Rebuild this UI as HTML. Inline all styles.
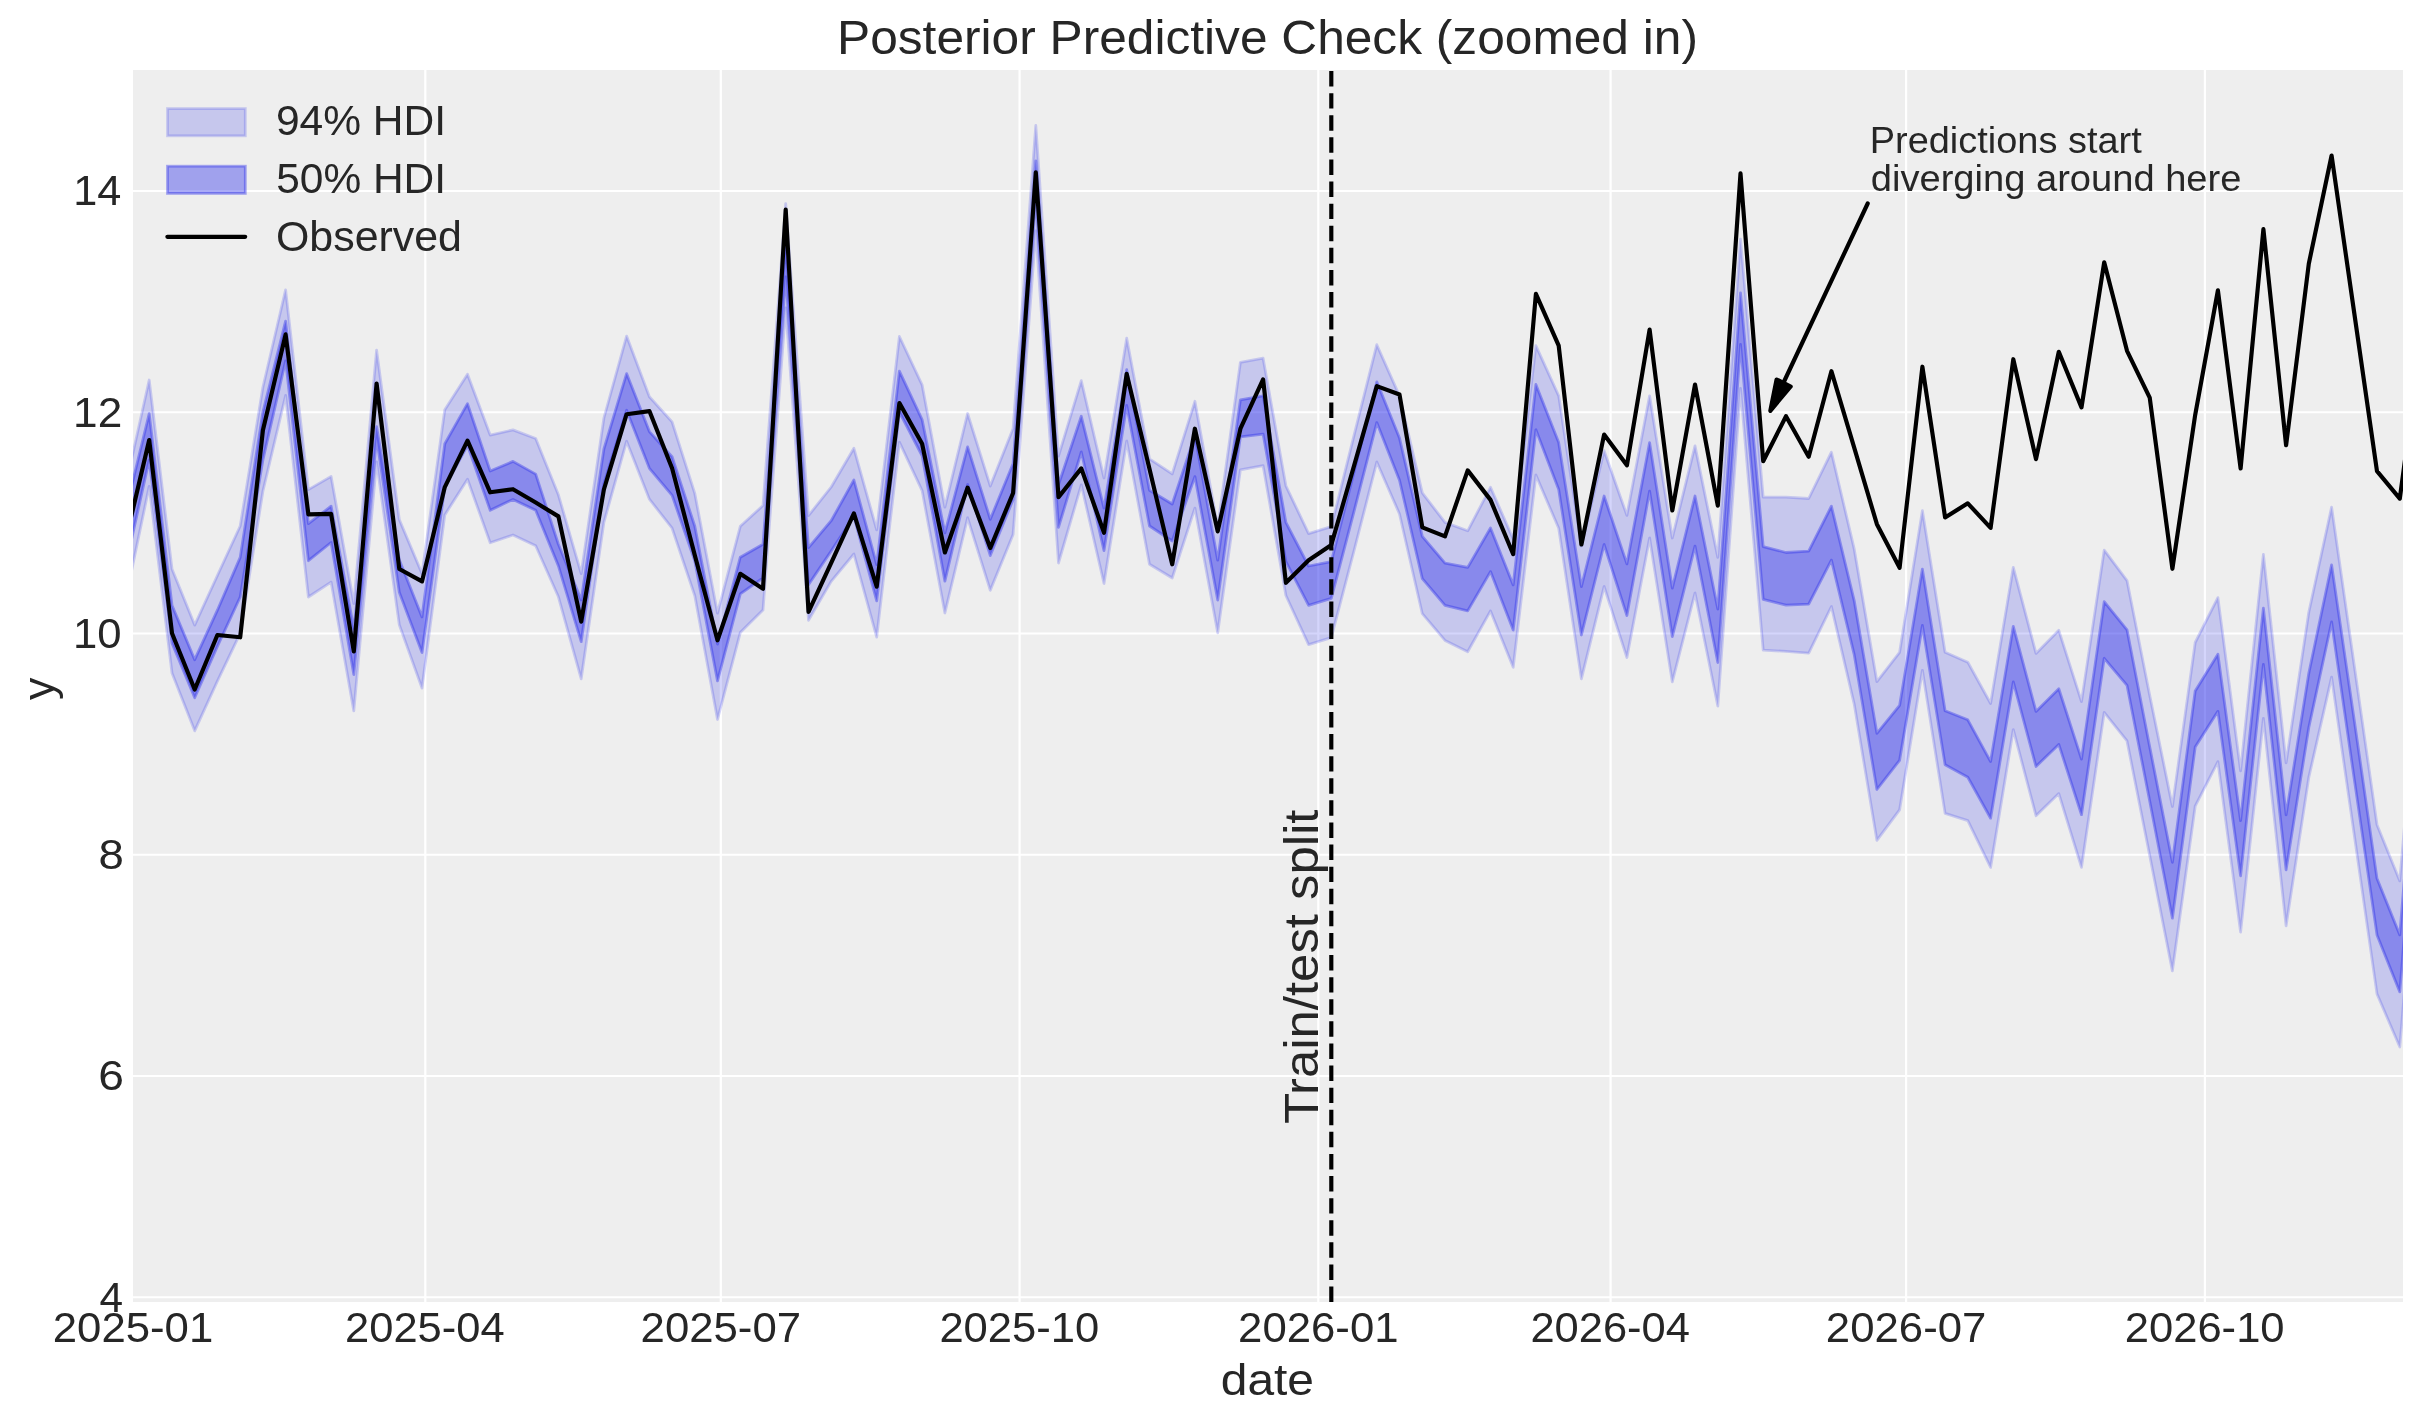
<!DOCTYPE html><html><head><meta charset="utf-8"><style>html,body{margin:0;padding:0;background:#fff;}svg{display:block;will-change:transform}</style></head><body>
<svg width="2423" height="1423" viewBox="0 0 2423 1423">
<rect x="0" y="0" width="2423" height="1423" fill="#ffffff"/>
<rect x="133" y="70" width="2270" height="1232" fill="#eeeeee"/>
<defs><clipPath id="pc"><rect x="133" y="70" width="2270" height="1232"/></clipPath></defs>
<path d="M133,1297.25H2403M133,1076.00H2403M133,854.75H2403M133,633.50H2403M133,412.25H2403M133,191.00H2403M425.30,70V1302M720.80,70V1302M1019.60,70V1302M1318.30,70V1302M1610.60,70V1302M1906.10,70V1302M2204.90,70V1302" stroke="#ffffff" stroke-width="2.22" fill="none" clip-path="url(#pc)"/>
<g clip-path="url(#pc)">
<polygon points="126.5,482.0 149.2,380.0 172.0,568.9 194.7,625.1 217.4,575.5 240.2,526.0 262.9,387.3 285.6,289.8 308.4,489.6 331.1,476.4 353.8,603.6 376.6,350.2 399.3,519.5 422.0,573.6 444.8,409.8 467.5,374.2 490.2,435.1 513.0,429.9 535.7,438.5 558.4,494.8 581.2,573.6 603.9,418.0 626.6,336.1 649.4,396.8 672.1,421.9 694.8,493.4 717.5,613.2 740.3,526.3 763.0,505.5 785.7,203.6 808.5,515.6 831.2,487.0 853.9,448.3 876.7,529.9 899.4,336.5 922.1,384.8 944.9,507.2 967.6,413.5 990.3,486.1 1013.1,428.6 1035.8,125.5 1058.5,456.1 1081.3,380.7 1104.0,478.0 1126.7,338.2 1149.5,458.8 1172.2,473.9 1194.9,401.3 1217.7,527.0 1240.4,362.3 1263.1,358.2 1285.9,485.8 1308.6,533.6 1331.3,526.6 1354.1,435.2 1376.8,344.7 1399.5,395.9 1422.3,492.9 1445.0,522.4 1467.7,530.8 1490.5,487.3 1513.2,539.0 1535.9,345.7 1558.7,395.8 1581.4,546.0 1604.1,450.7 1626.9,515.4 1649.6,395.8 1672.3,538.0 1695.0,445.9 1717.8,557.4 1740.5,239.2 1763.2,497.2 1786.0,497.2 1808.7,498.5 1831.4,452.2 1854.2,548.9 1876.9,681.6 1899.6,652.3 1922.4,510.7 1945.1,652.3 1967.8,662.2 1990.6,703.5 2013.3,567.3 2036.0,653.4 2058.8,630.3 2081.5,701.6 2104.2,550.1 2127.0,580.6 2149.7,695.2 2172.4,806.5 2195.2,642.5 2217.9,597.6 2240.6,770.8 2263.4,554.3 2286.1,762.9 2308.8,612.2 2331.6,507.1 2354.3,665.7 2377.0,824.7 2399.8,880.9 2422.5,615.0 2422.5,774.0 2399.8,1047.0 2377.0,993.9 2354.3,835.3 2331.6,677.1 2308.8,777.4 2286.1,925.8 2263.4,718.4 2240.6,932.1 2217.9,761.7 2195.2,806.2 2172.4,970.9 2149.7,855.4 2127.0,740.9 2104.2,712.4 2081.5,867.4 2058.8,793.6 2036.0,815.7 2013.3,729.6 1990.6,867.4 1967.8,820.6 1945.1,813.4 1922.4,670.3 1899.6,809.8 1876.9,840.3 1854.2,704.1 1831.4,606.5 1808.7,653.2 1786.0,651.4 1763.2,650.1 1740.5,388.5 1717.8,706.1 1695.0,593.0 1672.3,681.9 1649.6,538.0 1626.9,657.6 1604.1,586.5 1581.4,678.8 1558.7,528.3 1535.9,475.0 1513.2,667.3 1490.5,610.9 1467.7,651.7 1445.0,640.4 1422.3,613.7 1399.5,514.0 1376.8,462.0 1354.1,550.5 1331.3,637.6 1308.6,644.7 1285.9,595.5 1263.1,465.7 1240.4,469.8 1217.7,632.8 1194.9,508.1 1172.2,578.0 1149.5,564.3 1126.7,441.0 1104.0,583.5 1081.3,484.8 1058.5,563.0 1035.8,231.0 1013.1,534.4 990.3,590.3 967.6,517.8 944.9,613.0 922.1,490.6 899.4,442.2 876.7,637.1 853.9,554.0 831.2,581.4 808.5,620.2 785.7,308.0 763.0,610.1 740.3,632.6 717.5,719.5 694.8,595.8 672.1,528.2 649.4,499.2 626.6,441.2 603.9,522.4 581.2,678.8 558.4,596.8 535.7,545.8 513.0,535.0 490.2,542.7 467.5,479.3 444.8,514.9 422.0,688.1 399.3,624.7 376.6,461.8 353.8,710.9 331.1,582.1 308.4,597.0 285.6,395.5 262.9,491.3 240.2,633.3 217.4,681.2 194.7,730.8 172.0,673.0 149.2,486.3 126.5,595.0" fill="#2a2eec" fill-opacity="0.2" stroke="#2a2eec" stroke-opacity="0.2" stroke-width="2.78" stroke-linejoin="round"/>
<polygon points="126.5,507.0 149.2,413.7 172.0,605.2 194.7,659.7 217.4,610.2 240.2,557.4 262.9,412.0 285.6,321.2 308.4,523.7 331.1,506.2 353.8,628.4 376.6,426.7 399.3,559.7 422.0,616.9 444.8,443.8 467.5,403.6 490.2,471.0 513.0,461.4 535.7,474.1 558.4,544.3 581.2,599.9 603.9,449.0 626.6,373.6 649.4,431.6 672.1,456.7 694.8,526.3 717.5,644.1 740.3,557.2 763.0,544.3 785.7,244.6 808.5,547.7 831.2,520.7 853.9,480.0 876.7,564.6 899.4,371.2 922.1,419.6 944.9,532.9 967.6,446.8 990.3,519.3 1013.1,463.4 1035.8,160.9 1058.5,484.8 1081.3,416.3 1104.0,508.1 1126.7,369.7 1149.5,490.3 1172.2,504.0 1194.9,435.5 1217.7,560.2 1240.4,399.9 1263.1,395.8 1285.9,522.4 1308.6,566.0 1331.3,561.7 1354.1,471.8 1376.8,381.8 1399.5,438.1 1422.3,536.4 1445.0,563.1 1467.7,567.4 1490.5,528.0 1513.2,584.9 1535.9,384.5 1558.7,442.6 1581.4,586.6 1604.1,496.0 1626.9,563.9 1649.6,442.6 1672.3,588.1 1695.0,496.0 1717.8,609.1 1740.5,292.9 1763.2,546.6 1786.0,552.5 1808.7,551.1 1831.4,506.2 1854.2,600.6 1876.9,733.3 1899.6,705.4 1922.4,569.1 1945.1,710.8 1967.8,719.8 1990.6,761.6 2013.3,626.3 2036.0,711.4 2058.8,688.8 2081.5,759.1 2104.2,601.7 2127.0,629.8 2149.7,746.8 2172.4,862.3 2195.2,690.9 2217.9,654.3 2240.6,820.7 2263.4,608.2 2286.1,814.8 2308.8,673.2 2331.6,564.9 2354.3,720.4 2377.0,878.6 2399.8,934.9 2422.5,655.0 2422.5,712.0 2399.8,991.9 2377.0,934.9 2354.3,779.4 2331.6,622.0 2308.8,727.5 2286.1,869.9 2263.4,664.5 2240.6,875.8 2217.9,711.3 2195.2,747.1 2172.4,918.2 2149.7,800.9 2127.0,685.3 2104.2,658.3 2081.5,814.7 2058.8,744.4 2036.0,766.5 2013.3,681.9 1990.6,818.2 1967.8,777.3 1945.1,764.8 1922.4,625.4 1899.6,760.3 1876.9,789.5 1854.2,654.6 1831.4,560.1 1808.7,604.2 1786.0,605.1 1763.2,599.3 1740.5,344.3 1717.8,662.5 1695.0,546.1 1672.3,636.6 1649.6,491.1 1626.9,615.6 1604.1,544.5 1581.4,635.0 1558.7,489.5 1535.9,429.7 1513.2,630.1 1490.5,571.6 1467.7,610.9 1445.0,605.3 1422.3,578.6 1399.5,480.2 1376.8,422.6 1354.1,511.1 1331.3,598.3 1308.6,605.3 1285.9,561.7 1263.1,434.1 1240.4,436.9 1217.7,600.0 1194.9,476.6 1172.2,541.0 1149.5,526.0 1126.7,405.4 1104.0,550.6 1081.3,452.0 1058.5,527.3 1035.8,198.5 1013.1,499.7 990.3,555.6 967.6,484.5 944.9,581.2 922.1,455.8 899.4,412.0 876.7,600.9 853.9,516.3 831.2,551.0 808.5,584.8 785.7,277.0 763.0,578.0 740.3,593.9 717.5,680.9 694.8,561.0 672.1,495.3 649.4,468.3 626.6,410.3 603.9,483.7 581.2,641.7 558.4,565.9 535.7,510.3 513.0,499.4 490.2,510.3 467.5,445.3 444.8,487.1 422.0,652.5 399.3,592.2 376.6,438.0 353.8,674.6 331.1,542.5 308.4,560.7 285.6,360.8 262.9,459.9 240.2,597.0 217.4,646.5 194.7,697.7 172.0,643.2 149.2,459.9 126.5,562.0" fill="#2a2eec" fill-opacity="0.4" stroke="#2a2eec" stroke-opacity="0.4" stroke-width="2.78" stroke-linejoin="round"/>
<polyline points="126.5,536.6 149.2,440.1 172.0,633.3 194.7,689.5 217.4,635.0 240.2,637.3 262.9,430.2 285.6,334.4 308.4,514.4 331.1,513.8 353.8,651.5 376.6,383.5 399.3,569.0 422.0,581.4 444.8,487.1 467.5,440.7 490.2,492.3 513.0,489.2 535.7,502.5 558.4,516.4 581.2,621.6 603.9,489.5 626.6,414.2 649.4,411.1 672.1,468.3 694.8,555.2 717.5,640.3 740.3,573.8 763.0,588.8 785.7,209.7 808.5,611.8 831.2,562.9 853.9,513.3 876.7,586.7 899.4,403.0 922.1,443.8 944.9,552.5 967.6,487.6 990.3,548.0 1013.1,493.0 1035.8,172.4 1058.5,497.2 1081.3,468.4 1104.0,532.8 1126.7,373.9 1149.5,469.0 1172.2,564.3 1194.9,428.7 1217.7,531.4 1240.4,428.7 1263.1,379.3 1285.9,582.8 1308.6,560.3 1331.3,544.9 1354.1,465.6 1376.8,386.1 1399.5,394.5 1422.3,527.4 1445.0,536.4 1467.7,470.4 1490.5,499.9 1513.2,554.2 1535.9,293.9 1558.7,345.7 1581.4,544.5 1604.1,434.6 1626.9,465.3 1649.6,329.5 1672.3,510.5 1695.0,384.5 1717.8,505.7 1740.5,173.4 1763.2,461.2 1786.0,416.2 1808.7,456.7 1831.4,371.2 1854.2,447.7 1876.9,524.2 1899.6,567.8 1922.4,366.7 1945.1,517.4 1967.8,503.3 1990.6,527.9 2013.3,359.2 2036.0,459.1 2058.8,351.8 2081.5,407.4 2104.2,262.3 2127.0,350.8 2149.7,397.6 2172.4,568.8 2195.2,414.8 2217.9,290.3 2240.6,468.5 2263.4,229.2 2286.1,445.2 2308.8,263.7 2331.6,155.5 2354.3,313.4 2377.0,471.2 2399.8,498.6 2422.5,330.0" fill="none" stroke="#000" stroke-width="4.17" stroke-linejoin="round" stroke-linecap="butt"/>
<line x1="1331.3" y1="1302" x2="1331.3" y2="70" stroke="#000" stroke-width="4.17" stroke-dasharray="15.43 6.67"/>
</g>
<text x="837.09" y="53.70" font-size="48.00" textLength="860.85" lengthAdjust="spacingAndGlyphs" fill="#262626" style='font-family:"Liberation Sans", sans-serif'>Posterior Predictive Check (zoomed in)</text>
<text x="99.59" y="1311.55" font-size="42.00" textLength="23.55" lengthAdjust="spacingAndGlyphs" fill="#262626" style='font-family:"Liberation Sans", sans-serif'>4</text>
<text x="98.26" y="1090.30" font-size="42.00" textLength="25.68" lengthAdjust="spacingAndGlyphs" fill="#262626" style='font-family:"Liberation Sans", sans-serif'>6</text>
<text x="98.56" y="869.05" font-size="42.00" textLength="25.35" lengthAdjust="spacingAndGlyphs" fill="#262626" style='font-family:"Liberation Sans", sans-serif'>8</text>
<text x="73.12" y="647.80" font-size="42.00" textLength="48.53" lengthAdjust="spacingAndGlyphs" fill="#262626" style='font-family:"Liberation Sans", sans-serif'>10</text>
<text x="73.08" y="426.55" font-size="42.00" textLength="49.12" lengthAdjust="spacingAndGlyphs" fill="#262626" style='font-family:"Liberation Sans", sans-serif'>12</text>
<text x="73.15" y="205.30" font-size="42.00" textLength="48.10" lengthAdjust="spacingAndGlyphs" fill="#262626" style='font-family:"Liberation Sans", sans-serif'>14</text>
<text x="52.79" y="1342.10" font-size="42.00" textLength="160.44" lengthAdjust="spacingAndGlyphs" fill="#262626" style='font-family:"Liberation Sans", sans-serif'>2025-01</text>
<text x="345.10" y="1342.10" font-size="42.00" textLength="159.51" lengthAdjust="spacingAndGlyphs" fill="#262626" style='font-family:"Liberation Sans", sans-serif'>2025-04</text>
<text x="640.59" y="1342.10" font-size="42.00" textLength="160.44" lengthAdjust="spacingAndGlyphs" fill="#262626" style='font-family:"Liberation Sans", sans-serif'>2025-07</text>
<text x="939.40" y="1342.10" font-size="42.00" textLength="159.91" lengthAdjust="spacingAndGlyphs" fill="#262626" style='font-family:"Liberation Sans", sans-serif'>2025-10</text>
<text x="1238.09" y="1342.10" font-size="42.00" textLength="160.44" lengthAdjust="spacingAndGlyphs" fill="#262626" style='font-family:"Liberation Sans", sans-serif'>2026-01</text>
<text x="1530.40" y="1342.10" font-size="42.00" textLength="159.51" lengthAdjust="spacingAndGlyphs" fill="#262626" style='font-family:"Liberation Sans", sans-serif'>2026-04</text>
<text x="1825.89" y="1342.10" font-size="42.00" textLength="160.44" lengthAdjust="spacingAndGlyphs" fill="#262626" style='font-family:"Liberation Sans", sans-serif'>2026-07</text>
<text x="2124.70" y="1342.10" font-size="42.00" textLength="159.91" lengthAdjust="spacingAndGlyphs" fill="#262626" style='font-family:"Liberation Sans", sans-serif'>2026-10</text>
<text x="1220.80" y="1394.90" font-size="45.00" textLength="93.21" lengthAdjust="spacingAndGlyphs" fill="#262626" style='font-family:"Liberation Sans", sans-serif'>date</text>
<text transform="translate(53.5,700.02) rotate(-90)" x="0" y="0" font-size="45.00" textLength="22.45" lengthAdjust="spacingAndGlyphs" fill="#262626" style='font-family:"Liberation Sans", sans-serif'>y</text>
<rect x="167.5" y="108.6" width="77.8" height="27.2" fill="#2a2eec" fill-opacity="0.2" stroke="#2a2eec" stroke-opacity="0.2" stroke-width="2.78"/>
<rect x="167.5" y="166.2" width="77.8" height="27.2" fill="#2a2eec" fill-opacity="0.4" stroke="#2a2eec" stroke-opacity="0.4" stroke-width="2.78"/>
<line x1="167.4" y1="236.8" x2="245.2" y2="236.8" stroke="#000" stroke-width="4.17" stroke-linecap="round"/>
<text x="275.98" y="135.20" font-size="42.00" textLength="170.12" lengthAdjust="spacingAndGlyphs" fill="#262626" style='font-family:"Liberation Sans", sans-serif'>94% HDI</text>
<text x="276.23" y="192.80" font-size="42.00" textLength="169.85" lengthAdjust="spacingAndGlyphs" fill="#262626" style='font-family:"Liberation Sans", sans-serif'>50% HDI</text>
<text x="275.96" y="250.70" font-size="42.00" textLength="186.02" lengthAdjust="spacingAndGlyphs" fill="#262626" style='font-family:"Liberation Sans", sans-serif'>Observed</text>
<text transform="translate(1317.7,1124.09) rotate(-90)" x="0" y="0" font-size="48.00" textLength="314.56" lengthAdjust="spacingAndGlyphs" fill="#262626" style='font-family:"Liberation Sans", sans-serif'>Train/test split</text>
<text x="1869.74" y="153.00" font-size="36.00" textLength="272.00" lengthAdjust="spacingAndGlyphs" fill="#262626" style='font-family:"Liberation Sans", sans-serif'>Predictions start</text>
<text x="1870.81" y="190.90" font-size="36.00" textLength="370.60" lengthAdjust="spacingAndGlyphs" fill="#262626" style='font-family:"Liberation Sans", sans-serif'>diverging around here</text>
<line x1="1867.7" y1="203.5" x2="1784.3" y2="381.0" stroke="#000" stroke-width="4.17" stroke-linecap="round"/>
<polygon points="1770.3,410.8 1776.6,379.5 1790.7,386.5" fill="#000" stroke="#000" stroke-width="4.17" stroke-linejoin="round"/>
</svg></body></html>
